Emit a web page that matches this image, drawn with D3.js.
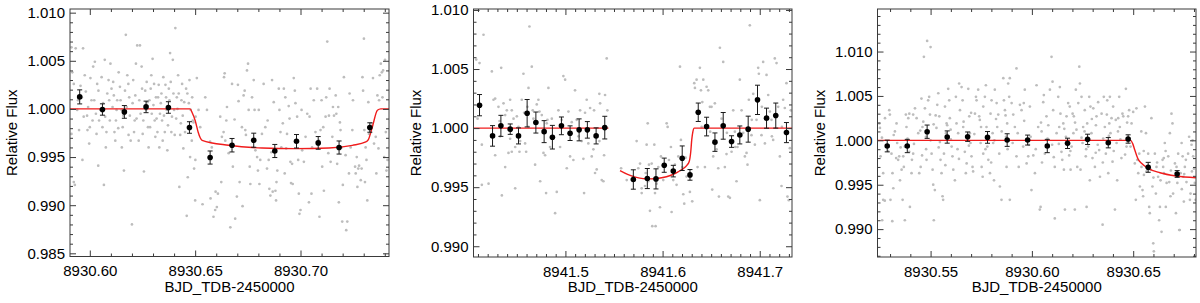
<!DOCTYPE html>
<html>
<head>
<meta charset="utf-8">
<script src="https://cdn.jsdelivr.net/npm/d3@7"></script>
<style>
  body { margin: 0; background: #fff; }
  svg { display: block; }
</style>
</head>
<body>
<svg id="chart" width="1200" height="303"></svg>
<script>
// ---- panel 1 : 8930.59 - 8930.74 ----
var p1Raw = [
 [8930.5913,1.0064],[8930.5933,1.0063],[8930.5968,1.0063],[8930.5917,1.0038],[8930.5924,1.0026],[8930.5913,0.9974],[8930.5924,0.9924],[8930.5929,0.9921],[8930.5944,1.0009],[8930.5956,1.0024],
 [8930.5965,0.9947],[8930.5976,1.0035],[8930.5987,0.9993],[8930.5992,1.0002],[8930.5997,0.9964],[8930.6000,0.9981],[8930.6008,1.0009],[8930.6016,1.0044],[8930.6024,1.0049],[8930.6029,0.9995],
 [8930.6035,1.0026],[8930.6040,0.9941],[8930.6044,0.9988],[8930.6056,1.0033],[8930.6060,0.9981],[8930.6067,0.9921],[8930.6071,1.0051],[8930.6076,0.9960],[8930.6083,1.0016],[8930.6092,1.0009],
 [8930.6098,1.0047],[8930.6103,1.0021],[8930.6111,1.0028],[8930.6117,0.9976],[8930.6124,0.9988],[8930.6130,1.0009],[8930.6137,1.0038],[8930.6143,1.0023],[8930.6151,0.9999],[8930.6156,0.9981],
 [8930.6162,0.9936],[8930.6167,1.0019],[8930.6171,1.0077],[8930.6178,1.0035],[8930.6183,1.0026],[8930.6187,1.0012],[8930.6194,0.9967],[8930.6200,0.9880],[8930.6206,1.0030],[8930.6213,0.9988],
 [8930.6219,1.0047],[8930.6225,1.0066],[8930.6235,1.0009],[8930.6238,1.0066],[8930.6246,1.0044],[8930.6251,0.9974],[8930.6257,0.9935],[8930.6263,1.0019],[8930.6270,1.0028],[8930.6276,0.9981],
 [8930.6283,1.0009],[8930.6289,1.0021],[8930.6294,0.9995],[8930.6298,1.0052],[8930.6305,1.0026],[8930.6311,0.9971],[8930.6317,0.9990],[8930.6324,1.0012],[8930.6330,0.9960],[8930.6337,1.0006],
 [8930.6343,0.9988],[8930.6349,1.0033],[8930.6356,0.9976],[8930.6362,1.0012],[8930.6368,0.9957],[8930.6375,1.0021],[8930.6381,1.0058],[8930.6387,0.9976],[8930.6394,1.0051],[8930.6400,0.9999],
 [8930.6406,1.0084],[8930.6413,1.0012],[8930.6419,1.0035],[8930.6425,0.9919],[8930.6432,0.9985],[8930.6438,1.0026],[8930.6444,0.9959],[8930.6452,0.9976],[8930.6460,0.9889],[8930.6465,0.9929],
 [8930.6470,1.0006],[8930.6476,0.9950],[8930.6484,0.9967],[8930.6489,0.9988],[8930.6495,0.9938],[8930.6500,0.9905],
 [8930.5940,0.9999],[8930.5949,0.9978],[8930.5962,1.0012],[8930.5971,0.9992],[8930.5981,1.0018],[8930.5989,0.9978],[8930.6003,1.0032],[8930.6013,0.9988],[8930.6021,1.0009],[8930.6032,0.9974],
 [8930.6041,1.0019],[8930.6051,0.9999],[8930.6063,1.0006],[8930.6073,0.9992],[8930.6079,0.9976],[8930.6089,1.0030],[8930.6095,0.9988],[8930.6108,1.0002],[8930.6114,1.0014],[8930.6121,0.9967],
 [8930.6127,0.9999],[8930.6135,0.9980],[8930.6146,1.0009],[8930.6152,0.9960],[8930.6159,0.9993],[8930.6175,1.0002],[8930.6184,0.9973],[8930.6190,0.9993],[8930.6203,1.0006],[8930.6210,0.9976],
 [8930.6216,1.0014],[8930.6222,0.9990],[8930.6232,0.9967],[8930.6241,0.9995],[8930.6248,1.0021],[8930.6254,0.9988],[8930.6267,0.9999],[8930.6273,1.0007],[8930.6279,0.9960],[8930.6286,0.9981],
 [8930.6292,1.0035],[8930.6302,1.0004],[8930.6308,0.9988],[8930.6314,1.0012],[8930.6321,0.9976],[8930.6327,1.0025],[8930.6333,0.9995],[8930.6340,1.0016],[8930.6346,0.9967],[8930.6352,0.9993],
 [8930.6359,1.0025],[8930.6365,0.9999],[8930.6371,0.9983],[8930.6378,1.0009],[8930.6384,1.0028],[8930.6390,0.9992],[8930.6397,1.0016],[8930.6403,0.9973],[8930.6410,0.9990],[8930.6416,1.0000],
 [8930.6422,1.0016],[8930.6429,0.9973],[8930.6435,1.0009],[8930.6441,0.9993],[8930.6448,1.0007],[8930.6457,1.0021],[8930.6463,1.0016],[8930.6473,1.0030],[8930.6479,0.9999],[8930.6486,1.0012],
 [8930.6492,0.9986],
 [8930.6508,1.0032],[8930.6516,0.9999],[8930.6502,0.9992],[8930.6524,0.9981],[8930.6501,0.9947],[8930.6535,0.9901],[8930.6548,1.0012],[8930.6556,0.9999],[8930.6571,0.9966],[8930.6579,0.9960],
 [8930.6573,0.9907],[8930.6587,0.9888],[8930.6595,0.9895],[8930.6603,0.9898],[8930.6597,0.9914],[8930.6608,0.9912],[8930.6619,0.9992],[8930.6624,0.9924],[8930.6627,0.9971],[8930.6635,0.9976],
 [8930.6643,0.9967],[8930.6637,1.0033],[8930.6640,1.0037],[8930.6651,1.0002],[8930.6648,0.9988],[8930.6659,0.9954],[8930.6667,0.9877],[8930.6675,1.0026],[8930.6679,0.9940],[8930.6687,0.9989],
 [8930.6690,0.9886],[8930.6698,0.9909],[8930.6703,1.0025],[8930.6706,1.0008],[8930.6711,0.9924],[8930.6722,0.9981],[8930.6725,0.9899],[8930.6730,1.0014],[8930.6735,1.0019],[8930.6738,0.9978],
 [8930.6741,0.9973],[8930.6746,1.0040],[8930.6751,1.0047],[8930.6754,0.9999],[8930.6759,0.9940],[8930.6762,0.9922],[8930.6770,1.0012],[8930.6773,0.9967],[8930.6778,1.0030],[8930.6782,0.9999],
 [8930.6786,0.9957],[8930.6794,0.9950],[8930.6802,0.9999],[8930.6798,0.9936],[8930.6805,0.9922],[8930.6809,0.9947],[8930.6817,0.9974],[8930.6825,1.0026],[8930.6833,0.9981],[8930.6841,0.9938],
 [8930.6844,0.9988],[8930.6849,0.9947],[8930.6852,0.9917],[8930.6857,0.9910],[8930.6862,0.9955],[8930.6865,1.0030],[8930.6868,0.9914],[8930.6881,0.9915],[8930.6873,1.0007],[8930.6884,0.9905],
 [8930.6886,0.9924],[8930.6890,0.9936],[8930.6897,1.0021],[8930.6900,0.9999],[8930.6905,0.9976],[8930.6909,0.9960],[8930.6916,0.9985],[8930.6921,1.0021],[8930.6925,0.9933],[8930.6928,1.0012],
 [8930.6932,0.9959],[8930.6936,0.9974],[8930.6944,1.0003],[8930.6948,0.9990],[8930.6952,0.9945],[8930.6960,0.9943],[8930.6955,0.9923],[8930.6963,0.9922],[8930.6968,1.0032],[8930.6973,1.0019],
 [8930.6976,1.0006],[8930.6984,0.9992],[8930.6989,0.9947],[8930.6992,0.9912],[8930.6995,0.9891],[8930.7000,0.9895],[8930.7005,0.9999],[8930.7008,0.9957],[8930.7016,0.9945],[8930.7024,0.9971],
 [8930.7032,0.9995],[8930.7040,0.9903],[8930.7043,0.9992],[8930.7048,1.0021],[8930.7052,0.9912],[8930.7055,0.9960],[8930.7063,1.0009],[8930.7071,0.9976],[8930.7079,1.0021],[8930.7087,0.9967],
 [8930.7090,0.9888],[8930.7095,0.9978],[8930.7100,1.0009],[8930.7103,0.9940],[8930.7108,0.9981],[8930.7111,0.9915],[8930.7119,0.9992],[8930.7122,1.0012],[8930.7127,1.0070],[8930.7132,0.9954],
 [8930.7135,0.9993],[8930.7138,1.0021],[8930.7143,0.9945],[8930.7151,0.9971],[8930.7154,1.0002],[8930.7159,0.9993],[8930.7167,1.0014],[8930.7170,0.9995],[8930.7174,0.9943],[8930.7179,1.0002],
 [8930.7182,0.9903],[8930.7187,0.9986],[8930.7190,0.9978],[8930.7195,0.9960],[8930.7198,0.9883],[8930.7201,0.9921],[8930.7206,1.0033],[8930.7214,0.9952],[8930.7217,0.9874],[8930.7222,0.9883],
 [8930.7230,0.9933],[8930.7233,1.0016],[8930.7238,0.9960],[8930.7246,0.9978],[8930.7249,1.0009],[8930.7259,0.9940],[8930.7262,0.9933],[8930.7267,0.9950],[8930.7270,0.9919],[8930.7274,0.9938],
 [8930.7278,0.9941],[8930.7286,0.9926],[8930.7290,0.9938],[8930.7301,1.0073],[8930.7297,1.0019],[8930.7303,0.9978],[8930.7306,0.9924],[8930.7309,0.9960],[8930.7313,0.9947],[8930.7317,0.9905],
 [8930.7322,1.0007],[8930.7325,0.9974],[8930.7333,0.9976],[8930.7338,0.9985],[8930.7294,1.0033],[8930.7344,1.0032],[8930.7349,0.9964],[8930.7357,0.9971],[8930.7360,0.9933],[8930.7365,1.0014],
 [8930.7370,0.9959],[8930.7373,1.0009],[8930.7376,1.0035],[8930.7381,1.0047],[8930.7386,1.0038],[8930.7389,1.0012],[8930.7392,1.0040],[8930.7397,0.9950],[8930.7401,1.0051],[8930.7405,0.9976],
 [8930.7408,0.9936],[8930.7413,0.9947]
];
var p1BinTime = [8930.5952, 8930.6060, 8930.6164, 8930.6267, 8930.6373, 8930.6473, 8930.6571, 8930.6675, 8930.6778, 8930.6878, 8930.6981, 8930.7084, 8930.7183, 8930.7329];
var p1BinFlux = [1.00125, 0.99994, 0.99969, 1.00021, 1.00015, 0.99807, 0.99495, 0.99623, 0.99675, 0.99563, 0.99664, 0.99647, 0.99599, 0.99807];
var p1BinErr  = [0.00073, 0.00059, 0.00066, 0.00060, 0.00060, 0.00060, 0.00068, 0.00070, 0.00073, 0.00068, 0.00070, 0.00066, 0.00068, 0.00049];
var p1Model = [[
 [8930.5906,1.0],[8930.6476,1.0],[8930.6486,0.9996],[8930.6500,0.9988],[8930.6514,0.9976],[8930.6524,0.9970],[8930.6533,0.99674],
 [8930.6659,0.99622],[8930.6818,0.99594],[8930.6976,0.99588],[8930.7135,0.99594],[8930.7246,0.99622],[8930.7310,0.99657],
 [8930.7322,0.99682],[8930.7341,0.99813],[8930.7365,0.99986],[8930.7381,1.0],[8930.7420,1.0]
]];
var p1XTicks = [8930.60, 8930.65, 8930.70];
var p1YTicks = [0.985, 0.990, 0.995, 1.000, 1.005, 1.010];

// ---- panel 2 : 8941.41 - 8941.73 ----
var p2Raw = [
 [8941.4082,1.0058],[8941.4157,1.0079],[8941.4116,1.0055],[8941.4096,1.0008],[8941.4140,0.9986],[8941.4140,0.9952],[8941.4209,0.9953],[8941.4243,1.0048],[8941.4260,1.0024],[8941.4277,1.0025],
 [8941.4277,0.9977],[8941.4311,1.0018],[8941.4322,1.0006],[8941.4328,0.9993],[8941.4339,1.0051],[8941.4346,0.9943],[8941.4363,1.0021],[8941.4380,1.0011],[8941.4380,0.9967],[8941.4397,1.0015],
 [8941.4414,0.9979],[8941.4431,1.0024],[8941.4448,1.0015],[8941.4431,0.9991],[8941.4448,0.9980],[8941.4466,1.0008],[8941.4483,0.9949],[8941.4483,0.9984],[8941.4500,1.0010],[8941.4517,1.0001],
 [8941.4527,0.9980],[8941.4534,0.9989],[8941.4551,1.0024],[8941.4568,1.0046],[8941.4575,1.0013],[8941.4585,0.9987],[8941.4596,0.9980],[8941.4609,1.0018],[8941.4620,1.0001],[8941.4620,1.0034],
 [8941.4630,1.0086],[8941.4654,1.0052],[8941.4664,1.0015],[8941.4671,1.0008],[8941.4688,0.9969],[8941.4705,1.0020],[8941.4722,1.0024],[8941.4733,1.0014],[8941.4740,0.9955],[8941.4757,1.0011],
 [8941.4774,0.9979],[8941.4791,0.9977],[8941.4801,0.9945],[8941.4808,1.0004],[8941.4825,1.0034],[8941.4815,1.0007],[8941.4842,0.9984],[8941.4860,1.0008],[8941.4877,0.9993],[8941.4894,0.9928],
 [8941.4911,0.9946],[8941.4928,1.0015],[8941.4945,0.9984],[8941.4962,1.0007],[8941.4979,1.0044],[8941.4997,1.0041],[8941.5014,0.9966],[8941.5031,1.0014],[8941.5048,0.9976],[8941.5065,1.0005],
 [8941.5082,0.9973],[8941.5099,1.0032],[8941.5116,1.0007],[8941.5134,0.9993],[8941.5151,1.0015],[8941.5168,0.9989],[8941.5185,0.9974],[8941.5192,0.9945],[8941.5202,1.0013],[8941.5219,1.0024],
 [8941.5236,0.9987],[8941.5254,1.0017],[8941.5271,0.9976],[8941.5288,0.9982],[8941.5295,1.0015],[8941.5305,0.9962],[8941.5322,0.9965],[8941.5349,1.0029],
 [8941.5357,1.0021],[8941.5374,0.9956],[8941.5391,0.9955],[8941.5408,1.0028],[8941.5425,1.0059],[8941.5432,1.0015],[8941.5350,0.9989],[8941.5398,0.9977],
 [8941.5573,0.9966],[8941.5631,0.9956],[8941.5699,0.9959],[8941.5733,0.9989],[8941.5750,0.9966],[8941.5768,0.9970],[8941.5785,0.9945],[8941.5785,0.9949],[8941.5819,0.9951],[8941.5826,0.9962],
 [8941.5836,0.9986],[8941.5847,1.0004],[8941.5853,0.9955],[8941.5860,0.9969],[8941.5870,0.9930],[8941.5888,0.9970],[8941.5894,0.9917],[8941.5928,0.9917],[8941.5915,0.9986],[8941.5922,0.9945],
 [8941.5939,0.9953],[8941.5956,0.9967],[8941.5973,0.9933],[8941.5983,0.9976],[8941.6007,0.9956],[8941.6042,1.0004],[8941.6052,1.0001],[8941.6066,0.9973],[8941.6086,0.9984],[8941.6093,0.9929],
 [8941.6110,0.9956],[8941.6127,0.9969],[8941.6144,0.9952],[8941.6162,0.9976],[8941.6179,1.0052],[8941.6189,0.9990],[8941.6203,0.9967],[8941.6213,0.9944],[8941.6223,0.9936],[8941.6237,0.9975],
 [8941.6247,0.9959],[8941.6281,0.9946],[8941.6305,0.9938],[8941.6326,1.0038],[8941.6333,1.0034],[8941.6350,1.0041],[8941.6360,0.9967],[8941.6384,1.0051],[8941.6395,1.0032],[8941.6409,1.0022],
 [8941.6419,1.0041],[8941.6436,0.9967],[8941.6453,1.0035],[8941.6470,1.0032],[8941.6487,1.0018],[8941.6504,1.0018],[8941.6511,0.9948],[8941.6521,0.9976],[8941.6538,1.0021],[8941.6556,0.9982],
 [8941.6573,0.9966],[8941.6580,0.9942],[8941.6590,1.0068],[8941.6607,1.0008],[8941.6624,1.0056],[8941.6641,0.9967],[8941.6658,0.9978],[8941.6676,0.9942],[8941.6693,0.9941],[8941.6710,0.9980],
 [8941.6727,1.0015],[8941.6744,0.9997],[8941.6761,0.9955],[8941.6771,0.9984],[8941.6795,1.0041],[8941.6813,1.0015],[8941.6830,0.9996],[8941.6847,0.9976],[8941.6864,0.9979],[8941.6874,0.9969],
 [8941.6888,1.0024],[8941.6898,1.0087],[8941.6915,0.9994],[8941.6933,1.0029],[8941.6950,0.9986],[8941.6967,1.0007],[8941.6984,1.0051],[8941.6991,1.0046],[8941.7001,0.9939],[8941.7018,0.9994],
 [8941.7035,1.0056],[8941.7053,0.9987],[8941.7070,1.0045],[8941.7087,1.0028],[8941.7104,1.0014],[8941.7121,1.0007],[8941.7138,0.9990],[8941.7155,1.0059],[8941.7173,1.0055],[8941.7190,1.0018],
 [8941.7207,0.9976],[8941.7224,0.9951],[8941.7241,1.0024],[8941.7258,1.0017],[8941.7275,1.0038],[8941.7285,0.9942],[8941.7299,0.9939],[8941.7310,0.9983],[8941.7320,1.0015],
 [8941.6402,1.0001],[8941.6490,0.9997],[8941.6662,0.9996],[8941.6748,0.9984],[8941.6918,1.0007],[8941.7022,1.0018],[8941.7125,0.9993],[8941.7228,1.0001]
];
var p2BinTime = [8941.4116, 8941.4250, 8941.4336, 8941.4432, 8941.4517, 8941.4606, 8941.4696, 8941.4781, 8941.4866, 8941.4959, 8941.5048,
                 8941.5141, 8941.5226, 8941.5316, 8941.5405, 8941.5699, 8941.5843, 8941.5932, 8941.6017, 8941.6110, 8941.6202, 8941.6282,
                 8941.6367, 8941.6453, 8941.6539, 8941.6624, 8941.6710, 8941.6795, 8941.6881, 8941.6977, 8941.7070, 8941.7165, 8941.7275];
var p2BinFlux = [1.00194, 0.99934, 1.00019, 0.99991, 0.99934, 1.00126, 1.00047, 0.99970, 0.99923, 1.00019, 0.99957,
                 0.99985, 0.99985, 0.99934, 1.00004, 0.99565, 0.99573, 0.99570, 0.99686, 0.99636, 0.99745, 0.99604,
                 1.00134, 1.00013, 0.99881, 1.00019, 0.99886, 0.99942, 0.99991, 1.00239, 1.00084, 1.00106, 0.99962];
var p2BinErr  = [0.00090, 0.00087, 0.00089, 0.00044, 0.00068, 0.00116, 0.00089, 0.00093, 0.00100, 0.00075, 0.00062,
                 0.00093, 0.00070, 0.00068, 0.00096, 0.00082, 0.00085, 0.00085, 0.00060, 0.00049, 0.00104, 0.00045,
                 0.00078, 0.00079, 0.00078, 0.00113, 0.00049, 0.00076, 0.00110, 0.00124, 0.00085, 0.00106, 0.00085];
var p2Model = [
 [[8941.4054,1.0],[8941.5442,1.0]],
 [[8941.5562,0.99640],[8941.5640,0.99608],[8941.5720,0.99585],[8941.5800,0.99572],[8941.5880,0.99570],[8941.5960,0.99575],
  [8941.6040,0.99588],[8941.6100,0.99605],[8941.6160,0.99630],[8941.6210,0.99655],[8941.6250,0.99685],[8941.6275,0.99720],
  [8941.6290,0.99800],[8941.6300,0.99900],[8941.6312,0.99970],[8941.6326,1.0],[8941.7332,1.0]]
];
var p2XTicks = [8941.5, 8941.6, 8941.7];
var p2YTicks = [0.990, 0.995, 1.000, 1.005, 1.010];

// ---- panel 3 : 8930.52 - 8930.68 ----
var p3Raw = [
 [8930.5247,1.0019],[8930.5250,1.0014],[8930.5253,0.9982],[8930.5266,0.9963],[8930.5266,0.9933],[8930.5274,0.9932],[8930.5261,0.9910],[8930.5296,1.0034],[8930.5299,1.0029],[8930.5307,0.9985],
 [8930.5312,0.9963],[8930.5316,0.9946],[8930.5311,0.9909],[8930.5302,0.9933],[8930.5324,1.0010],[8930.5332,1.0019],[8930.5335,0.9997],[8930.5340,0.9978],[8930.5345,0.9982],[8930.5349,0.9955],
 [8930.5357,0.9967],[8930.5362,0.9933],[8930.5365,0.9982],[8930.5368,0.9970],[8930.5373,0.9993],[8930.5378,1.0029],[8930.5381,1.0015],[8930.5390,1.0025],[8930.5395,0.9987],[8930.5398,0.9925],
 [8930.5406,0.9963],[8930.5414,0.9985],[8930.5408,0.9978],[8930.5373,0.9910],[8930.5414,1.0029],[8930.5423,1.0036],[8930.5431,1.0025],[8930.5439,1.0008],[8930.5444,0.9963],[8930.5451,0.9970],
 [8930.5455,1.0047],[8930.5460,1.0015],[8930.5464,1.0021],[8930.5467,1.0094],[8930.5483,1.0112],[8930.5500,1.0105],[8930.5472,1.0036],[8930.5477,1.0004],[8930.5480,0.9978],[8930.5488,1.0045],
 [8930.5493,1.0049],[8930.5497,1.0029],[8930.5500,1.0000],[8930.5505,0.9985],[8930.5510,0.9967],[8930.5513,0.9950],[8930.5516,0.9910],[8930.5521,0.9944],[8930.5529,1.0014],[8930.5533,1.0040],
 [8930.5538,1.0053],[8930.5543,1.0027],[8930.5546,0.9998],[8930.5549,0.9978],[8930.5554,0.9963],[8930.5559,0.9937],[8930.5562,0.9933],[8930.5566,0.9985],[8930.5571,1.0038],[8930.5576,1.0008],
 [8930.5579,1.0019],[8930.5587,1.0058],[8930.5592,1.0045],[8930.5595,1.0025],[8930.5599,1.0012],[8930.5604,0.9993],[8930.5608,0.9982],[8930.5612,0.9967],[8930.5620,0.9955],[8930.5625,1.0049],
 [8930.5628,1.0019],[8930.5636,1.0008],[8930.5641,1.0064],[8930.5645,1.0034],[8930.5653,1.0060],[8930.5658,1.0045],[8930.5661,1.0015],[8930.5669,0.9987],[8930.5674,0.9963],[8930.5678,0.9974],
 [8930.5686,1.0058],[8930.5691,1.0027],[8930.5694,1.0008],[8930.5697,0.9997],[8930.5702,0.9982],[8930.5707,0.9970],[8930.5710,0.9965],[8930.5719,1.0030],[8930.5724,1.0049],[8930.5727,1.0045],
 [8930.5735,1.0057],[8930.5740,1.0027],[8930.5743,1.0023],[8930.5747,0.9997],[8930.5752,0.9970],[8930.5757,0.9959],[8930.5760,1.0038],[8930.5768,1.0049],[8930.5773,1.0062],[8930.5776,1.0015],
 [8930.5780,0.9993],[8930.5785,0.9978],[8930.5793,0.9963],[8930.5796,1.0030],[8930.5801,1.0045],[8930.5806,1.0008],[8930.5809,0.9997],[8930.5813,0.9955],[8930.5817,1.0057],[8930.5826,1.0042],
 [8930.5829,1.0015],[8930.5834,1.0029],[8930.5839,0.9985],[8930.5842,0.9948],[8930.5850,0.9933],[8930.5859,1.0070],[8930.5862,1.0045],[8930.5867,1.0034],[8930.5872,1.0004],[8930.5875,0.9970],
 [8930.5878,1.0019],[8930.5883,1.0064],[8930.5888,1.0049],
 [8930.5891,1.0070],[8930.5891,0.9933],[8930.5900,1.0042],[8930.5908,1.0029],[8930.5916,1.0015],[8930.5924,0.9982],[8930.5924,1.0081],[8930.5941,1.0040],[8930.5949,1.0034],[8930.5957,0.9993],
 [8930.5960,1.0042],[8930.5965,1.0057],[8930.5974,0.9974],[8930.5982,0.9982],[8930.5990,1.0038],[8930.5998,0.9944],[8930.6007,0.9983],[8930.6015,0.9963],[8930.6023,1.0062],[8930.6031,1.0015],
 [8930.6039,0.9922],[8930.6043,0.9925],[8930.6048,1.0010],[8930.6056,1.0043],[8930.6059,1.0051],[8930.6064,0.9985],[8930.6072,1.0027],[8930.6081,1.0017],[8930.6089,1.0057],[8930.6097,1.0094],
 [8930.6102,1.0066],[8930.6105,1.0034],[8930.6113,0.9970],[8930.6113,0.9912],[8930.6122,1.0008],[8930.6130,1.0049],[8930.6135,1.0015],[8930.6138,1.0060],[8930.6141,1.0030],[8930.6146,0.9987],
 [8930.6155,1.0019],[8930.6158,0.9967],[8930.6163,0.9922],[8930.6168,1.0004],[8930.6171,1.0027],[8930.6179,1.0042],[8930.6184,0.9983],[8930.6187,1.0038],[8930.6191,0.9967],[8930.6196,0.9993],
 [8930.6201,1.0030],[8930.6207,1.0027],[8930.6212,0.9922],[8930.6217,1.0057],[8930.6220,1.0012],[8930.6224,0.9970],[8930.6229,1.0042],[8930.6234,1.0083],[8930.6237,1.0064],[8930.6240,0.9967],
 [8930.6245,1.0049],[8930.6250,0.9997],[8930.6253,1.0015],[8930.6261,1.0034],[8930.6266,0.9982],[8930.6270,0.9925],[8930.6273,1.0019],[8930.6278,0.9993],[8930.6283,1.0049],[8930.6286,0.9955],
 [8930.6289,1.0038],[8930.6294,1.0008],[8930.6299,0.9980],[8930.6303,1.0036],[8930.6311,0.9970],[8930.6316,1.0017],[8930.6319,1.0027],[8930.6327,1.0043],[8930.6332,0.9989],[8930.6336,0.9959],
 [8930.6344,1.0030],[8930.6349,0.9905],[8930.6352,1.0002],[8930.6355,1.0049],[8930.6360,1.0015],[8930.6365,0.9985],[8930.6372,1.0045],[8930.6377,0.9963],[8930.6382,1.0019],[8930.6385,1.0049],
 [8930.6388,1.0008],[8930.6393,1.0025],[8930.6398,0.9976],[8930.6401,1.0038],[8930.6410,0.9922],[8930.6414,1.0023],[8930.6418,0.9997],[8930.6421,0.9955],[8930.6426,1.0025],[8930.6431,1.0049],
 [8930.6434,1.0015],[8930.6442,0.9980],[8930.6447,1.0030],[8930.6451,1.0027],[8930.6464,1.0058],[8930.6467,0.9993],[8930.6475,1.0027],[8930.6480,1.0034],[8930.6484,1.0000],[8930.6492,1.0019],
 [8930.6500,1.0032],[8930.6508,0.9974],[8930.6513,0.9933],[8930.6516,1.0036],[8930.6525,0.9963],[8930.6530,0.9985],[8930.6533,0.9948],[8930.6541,0.9970],[8930.6546,0.9944],[8930.6549,0.9937],
 [8930.6553,0.9961],[8930.6558,1.0038],[8930.6563,1.0008],[8930.6566,0.9965],[8930.6574,0.9985],[8930.6579,0.9925],[8930.6582,0.9918],[8930.6590,1.0025],[8930.6595,0.9948],[8930.6599,0.9884],
 [8930.6602,0.9875],[8930.6607,0.9985],[8930.6612,0.9940],[8930.6615,0.9970],[8930.6623,0.9959],[8930.6628,0.9910],[8930.6632,0.9925],[8930.6635,0.9955],[8930.6640,0.9897],[8930.6645,0.9978],
 [8930.6648,0.9970],[8930.6651,0.9980],[8930.6656,0.9997],[8930.6661,0.9925],[8930.6665,0.9952],[8930.6673,0.9982],[8930.6678,0.9953],[8930.6681,1.0008],[8930.6684,0.9937],[8930.6689,1.0030],
 [8930.6694,1.0019],[8930.6697,0.9940],[8930.6706,0.9974],[8930.6711,0.9918],[8930.6714,0.9970],[8930.6722,0.9985],[8930.6727,0.9899],[8930.6730,0.9899],[8930.6734,0.9963],[8930.6739,0.9997],
 [8930.6744,0.9982],[8930.6747,0.9959],[8930.6750,0.9931],[8930.6755,0.9970],[8930.6760,0.9978],[8930.6763,0.9953],[8930.6771,0.9985],[8930.6776,1.0004],[8930.6780,0.9933],[8930.6783,0.9940],
 [8930.6788,0.9995],[8930.6793,1.0000],[8930.6796,0.9982],[8930.6804,0.9952],[8930.6808,0.9933],
 [8930.5260,1.0003],[8930.5290,0.9988],[8930.5318,1.0006],[8930.5352,0.9992],[8930.5386,1.0002],[8930.5418,0.9996],[8930.5449,1.0011],[8930.5478,0.9990],[8930.5515,1.0018],[8930.5540,0.9992],
 [8930.5573,0.9972],[8930.5600,1.0001],[8930.5633,0.9990],[8930.5663,1.0021],[8930.5689,0.9994],[8930.5716,1.0007],[8930.5749,1.0015],[8930.5771,0.9990],[8930.5799,0.9975],[8930.5823,1.0024],
 [8930.5851,1.0010],[8930.5880,0.9990],[8930.5905,0.9997],[8930.5935,0.9970],[8930.5962,1.0022],[8930.5994,1.0004],[8930.6019,0.9990],[8930.6050,0.9975],[8930.6077,1.0002],[8930.6108,0.9981],
 [8930.6133,0.9996],[8930.6160,1.0013],[8930.6190,0.9988],[8930.6213,1.0020],[8930.6245,1.0003],[8930.6268,0.9990],[8930.6296,1.0024],[8930.6325,0.9995],[8930.6350,0.9975],[8930.6380,1.0005],
 [8930.6404,0.9988],[8930.6437,1.0001],[8930.6460,0.9984],[8930.6487,0.9993],[8930.6520,0.9978],[8930.6552,0.9988],[8930.6586,0.9967],[8930.6618,0.9975],[8930.6652,0.9963],[8930.6686,0.9966],
 [8930.6718,0.9952],[8930.6752,0.9962],[8930.6790,0.9965],
 [8930.5275,1.0025],[8930.5330,0.9980],[8930.5395,1.0030],[8930.5458,0.9983],[8930.5525,1.0028],[8930.5582,1.0017],[8930.5640,0.9979],[8930.5700,1.0031],[8930.5760,0.9985],[8930.5815,1.0000],
 [8930.5870,1.0028],[8930.5930,1.0008],[8930.5985,0.9995],[8930.6045,1.0020],[8930.6100,0.9995],[8930.6150,0.9978],[8930.6205,1.0008],[8930.6260,1.0010],[8930.6315,0.9986],[8930.6370,1.0029],
 [8930.6425,1.0010],[8930.6470,1.0020],[8930.6540,1.0010],[8930.6600,0.9958],[8930.6660,0.9988],[8930.6740,0.9945],[8930.6800,0.9968]
];
var p3BinTime = [8930.5286, 8930.5385, 8930.5483, 8930.5582, 8930.5683, 8930.5781, 8930.5878, 8930.5979,
                 8930.6076, 8930.6176, 8930.6275, 8930.6377, 8930.6475, 8930.6574, 8930.6717];
var p3BinFlux = [0.99936, 0.99936, 1.00097, 1.00037, 1.00041, 1.00033, 1.00003, 1.00003,
                 0.99936, 0.99966, 1.00011, 0.99973, 1.00015, 0.99696, 0.99621];
var p3BinErr  = [0.00066, 0.00075, 0.00075, 0.00069, 0.00053, 0.00066, 0.00071, 0.00056,
                 0.00075, 0.00058, 0.00058, 0.00058, 0.00047, 0.00056, 0.00038];
var p3Model = [[
 [8930.5238,1.0],[8930.6487,1.0],[8930.6498,0.9996],[8930.6508,0.9989],[8930.6517,0.9983],[8930.6525,0.99786],
 [8930.6541,0.99741],[8930.6574,0.99685],[8930.6632,0.99635],[8930.6714,0.99598],[8930.6810,0.99579]
]];
var p3XTicks = [8930.55, 8930.60, 8930.65];
var p3YTicks = [0.990, 0.995, 1.000, 1.005, 1.010];

var panels = [
  {id: 1, left: 70, right: 389, top: 9, bottom: 256.5, xDomain: [8930.5906, 8930.7420], yDomain: [0.98467, 1.01038],
   raw: p1Raw, binT: p1BinTime, binF: p1BinFlux, binE: p1BinErr, model: p1Model,
   xTicks: p1XTicks, yTicks: p1YTicks, xFmt: ".2f", xMinor: 0.01, labelX: 16.5},
  {id: 2, left: 473.5, right: 792, top: 9, bottom: 257, xDomain: [8941.4054, 8941.7332], yDomain: [0.98909, 1.01008],
   raw: p2Raw, binT: p2BinTime, binF: p2BinFlux, binE: p2BinErr, model: p2Model,
   xTicks: p2XTicks, yTicks: p2YTicks, xFmt: ".1f", xMinor: 0.01, labelX: 420.5},
  {id: 3, left: 877.5, right: 1196, top: 9, bottom: 257, xDomain: [8930.5238, 8930.6810], yDomain: [0.98686, 1.01479],
   raw: p3Raw, binT: p3BinTime, binF: p3BinFlux, binE: p3BinErr, model: p3Model,
   xTicks: p3XTicks, yTicks: p3YTicks, xFmt: ".2f", xMinor: 0.01, labelX: 825}
];

var FONT = "'Liberation Sans', Arial, Helvetica, sans-serif";
var svg = d3.select("#chart");

// minor ticks between domain ends, at every step (skips the majors)
function minorTicks(domain, step, majors) {
  var lo = Math.ceil(domain[0] / step - 1e-6), hi = Math.floor(domain[1] / step + 1e-6);
  return d3.range(lo, hi + 1).map(function(i) { return +(i * step).toFixed(6) })
    .filter(function(v) { return !majors.some(function(m) { return Math.abs(m - v) < step / 10 }) });
}

function drawPanel(p) {
  var x = d3.scaleLinear().domain(p.xDomain).range([p.left, p.right]);
  var y = d3.scaleLinear().domain(p.yDomain).range([p.bottom, p.top]);
  var g = svg.append("g");

  g.append("clipPath").attr("id", "clip" + p.id)
    .append("rect")
      .attr("x", p.left).attr("y", p.top)
      .attr("width", p.right - p.left).attr("height", p.bottom - p.top);

  var plot = g.append("g").attr("clip-path", "url(#clip" + p.id + ")");

  // raw photometry
  plot.selectAll("circle.raw")
    .data(p.raw).enter()
    .append("circle")
      .attr("class", "raw")
      .attr("cx", function(d) { return x(d[0]) })
      .attr("cy", function(d) { return y(d[1]) })
      .attr("r", 1.35)
      .style("fill", "#bdbdbd");

  // transit model
  var line = d3.line()
    .x(function(d) { return x(d[0]) })
    .y(function(d) { return y(d[1]) })
    .curve(d3.curveMonotoneX);

  plot.selectAll("path.model")
    .data(p.model).enter()
    .append("path")
      .attr("class", "model")
      .attr("d", line)
      .style("fill", "none")
      .style("stroke", "#f01c1c")
      .style("stroke-width", 1.4);

  // binned points with error bars
  var bins = p.binT.map(function(t, i) { return {t: t, f: p.binF[i], e: p.binE[i]} });
  var eb = plot.selectAll("g.bin").data(bins).enter().append("g").attr("class", "bin");
  eb.append("line")
    .attr("x1", function(d) { return x(d.t) }).attr("x2", function(d) { return x(d.t) })
    .attr("y1", function(d) { return y(d.f - d.e) }).attr("y2", function(d) { return y(d.f + d.e) });
  eb.append("line")
    .attr("x1", function(d) { return x(d.t) - 2.5 }).attr("x2", function(d) { return x(d.t) + 2.5 })
    .attr("y1", function(d) { return y(d.f + d.e) }).attr("y2", function(d) { return y(d.f + d.e) });
  eb.append("line")
    .attr("x1", function(d) { return x(d.t) - 2.5 }).attr("x2", function(d) { return x(d.t) + 2.5 })
    .attr("y1", function(d) { return y(d.f - d.e) }).attr("y2", function(d) { return y(d.f - d.e) });
  eb.selectAll("line").style("stroke", "#1a1a1a").style("stroke-width", 1);
  eb.append("circle")
    .attr("cx", function(d) { return x(d.t) })
    .attr("cy", function(d) { return y(d.f) })
    .attr("r", 2.8)
    .style("fill", "#000");

  // axes: inward ticks on all four sides
  var xMin = minorTicks(p.xDomain, p.xMinor, p.xTicks);
  var yMin = minorTicks(p.yDomain, 0.001, p.yTicks);

  var axes = [
    [d3.axisBottom(x).tickValues(p.xTicks).tickFormat(d3.format(p.xFmt)).tickSize(-6).tickPadding(9), "translate(0," + p.bottom + ")"],
    [d3.axisBottom(x).tickValues(xMin).tickFormat("").tickSize(-3), "translate(0," + p.bottom + ")"],
    [d3.axisTop(x).tickValues(p.xTicks).tickFormat("").tickSize(-6), "translate(0," + p.top + ")"],
    [d3.axisTop(x).tickValues(xMin).tickFormat("").tickSize(-3), "translate(0," + p.top + ")"],
    [d3.axisLeft(y).tickValues(p.yTicks).tickFormat(d3.format(".3f")).tickSize(-6).tickPadding(5), "translate(" + p.left + ",0)"],
    [d3.axisLeft(y).tickValues(yMin).tickFormat("").tickSize(-3), "translate(" + p.left + ",0)"],
    [d3.axisRight(y).tickValues(p.yTicks).tickFormat("").tickSize(-6), "translate(" + p.right + ",0)"],
    [d3.axisRight(y).tickValues(yMin).tickFormat("").tickSize(-3), "translate(" + p.right + ",0)"]
  ];
  axes.forEach(function(a) {
    var ag = g.append("g").attr("transform", a[1]).call(a[0].tickSizeOuter(0));
    ag.select(".domain").remove();
    ag.selectAll("line").style("stroke", "#3a3a3a");
    ag.selectAll("text").style("font-family", FONT).style("font-size", "15px").style("fill", "#000");
  });

  g.append("rect")
    .attr("x", p.left).attr("y", p.top)
    .attr("width", p.right - p.left).attr("height", p.bottom - p.top)
    .style("fill", "none")
    .style("stroke", "#3a3a3a")
    .style("stroke-width", 1);

  g.append("text")
    .attr("x", (p.left + p.right) / 2)
    .attr("y", 292)
    .attr("text-anchor", "middle")
    .style("font-family", FONT).style("font-size", "15px")
    .text("BJD_TDB-2450000");

  var cy = (p.top + p.bottom) / 2;
  g.append("text")
    .attr("transform", "translate(" + p.labelX + "," + cy + ") rotate(-90)")
    .attr("text-anchor", "middle")
    .style("font-family", FONT).style("font-size", "15px")
    .text("Relative Flux");
}

panels.forEach(drawPanel);
</script>
</body>
</html>
